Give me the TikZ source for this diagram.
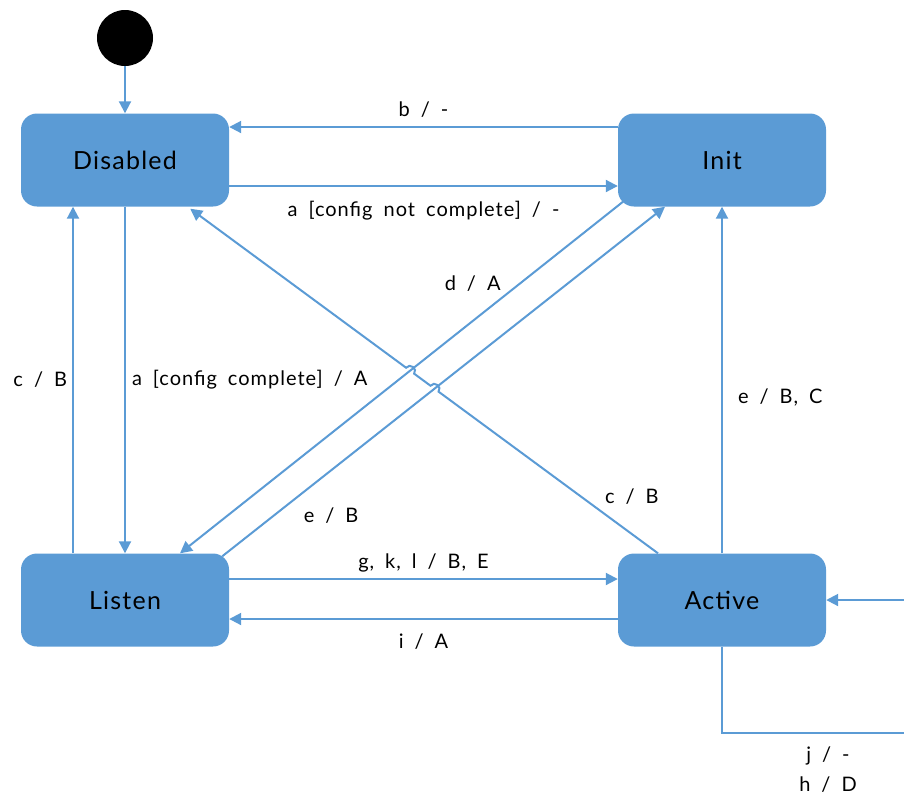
\documentclass[tikz,border=0pt]{standalone}
\usepackage{fontspec}
\setmainfont{Lato}[LetterSpace=5,WordSpace=1.8]
\usetikzlibrary{arrows.meta,calc,intersections}
\definecolor{stateblue}{RGB}{91,155,213}
\tikzstyle{node_state} = [rectangle, rounded corners=16pt, fill=stateblue, inner sep=0pt, minimum width=208pt, minimum height=93pt, font=\fontsize{25}{30}\selectfont]
\tikzstyle{node_start} = [circle, fill=black, inner sep=0pt, minimum size=56pt]
\tikzstyle{edge_arrow} = [draw=stateblue, line width=2pt, -{Triangle[length=12pt,width=12pt]}]
\tikzstyle{edge_label} = [font=\fontsize{20}{30}\selectfont, inner sep=2pt]

\begin{document}
\begin{tikzpicture}[x=1pt,y=-1pt]
	\useasboundingbox (0,0) rectangle (904,796);
	\clip (0,0) rectangle (904,796);

	\node (start) at (125,38) [node_start] {};
	\node (disabled) at (125,160) [node_state] {Disabled};
	\node (init) at (722,160) [node_state] {Init};
	\node (listen) at (125,600) [node_state] {Listen};
	\node (active) at (722,600) [node_state] {Active};

	\coordinate (da_from) at ([xshift=9pt,yshift=8pt]init.south west);
	\coordinate (da_to) at ([xshift=55pt]listen.north);
	\coordinate (eb_from) at ([xshift=-7pt,yshift=-3pt]listen.north east);
	\coordinate (eb_to) at ([xshift=-57pt]init.south);
	\coordinate (cb_from) at ([xshift=-64pt]active.north);
	\coordinate (cb_to) at ([xshift=-39pt,yshift=-2pt]disabled.south east);
	\coordinate (loop_corner) at (930,733);

	\draw[edge_arrow] (start) -- (disabled);
	\draw[edge_arrow] ([yshift=33pt]init.west) -- node[edge_label, yshift=17pt] {b / -} ([yshift=33pt]disabled.east);
	\draw[edge_arrow] ([yshift=-26pt]disabled.east) -- node[edge_label, yshift=-25pt] {a [config not complete] / -} ([yshift=-26pt]init.west);
	\draw[edge_arrow] (disabled) -- node[edge_label, anchor=west, xshift=4pt] {a [config complete] / A} (listen);
	\draw[edge_arrow] ([xshift=-52pt]listen.north) -- node[edge_label, anchor=east, xshift=-3pt] {c / B} ([xshift=-52pt]disabled.south);
	\draw[edge_arrow] (active) -- node[edge_label, anchor=west, pos=0.45, xshift=13pt] {e / B, C} (init);
	\draw[edge_arrow] ([yshift=21pt]listen.east) -- node[edge_label, yshift=16pt] {g, k, l / B, E} ([yshift=21pt]active.west);
	\draw[edge_arrow] ([yshift=-19pt]active.west) -- node[edge_label, yshift=-23pt] {i / A} ([yshift=-19pt]listen.east);

	% crossing lines
	\draw[edge_arrow, name path=p_da] (da_from) -- node[edge_label, pos=0.345, yshift=37pt] {d / A} (da_to);
	\draw[edge_arrow, name path=p_eb] (eb_from) -- node[edge_label, pos=0.246, yshift=-45pt] {e / B} (eb_to);
	\path[name path=p_cb] (cb_from) -- node[edge_label, pos=0.056, yshift=37pt] {c / B} (cb_to);
	\path[name intersections={of=p_cb and p_da, by=jump_a}];
	\path[name intersections={of=p_cb and p_eb, by=jump_b}];
	\draw[edge_arrow] (cb_from) -- ($(jump_b)!5pt!(cb_from)$)
		to[out=53,in=53,looseness=1.6] ($(jump_b)!5pt!(cb_to)$) -- ($(jump_a)!5pt!(cb_from)$)
		to[out=53,in=53,looseness=1.6] ($(jump_a)!5pt!(cb_to)$) -- (cb_to);

	% self loop
	\draw[edge_arrow] (active.south) |- (loop_corner) |- (active.east);
	\node (loop_label) at (828,770) [edge_label, align=center] {j / -\\h / D};
\end{tikzpicture}
\end{document}
